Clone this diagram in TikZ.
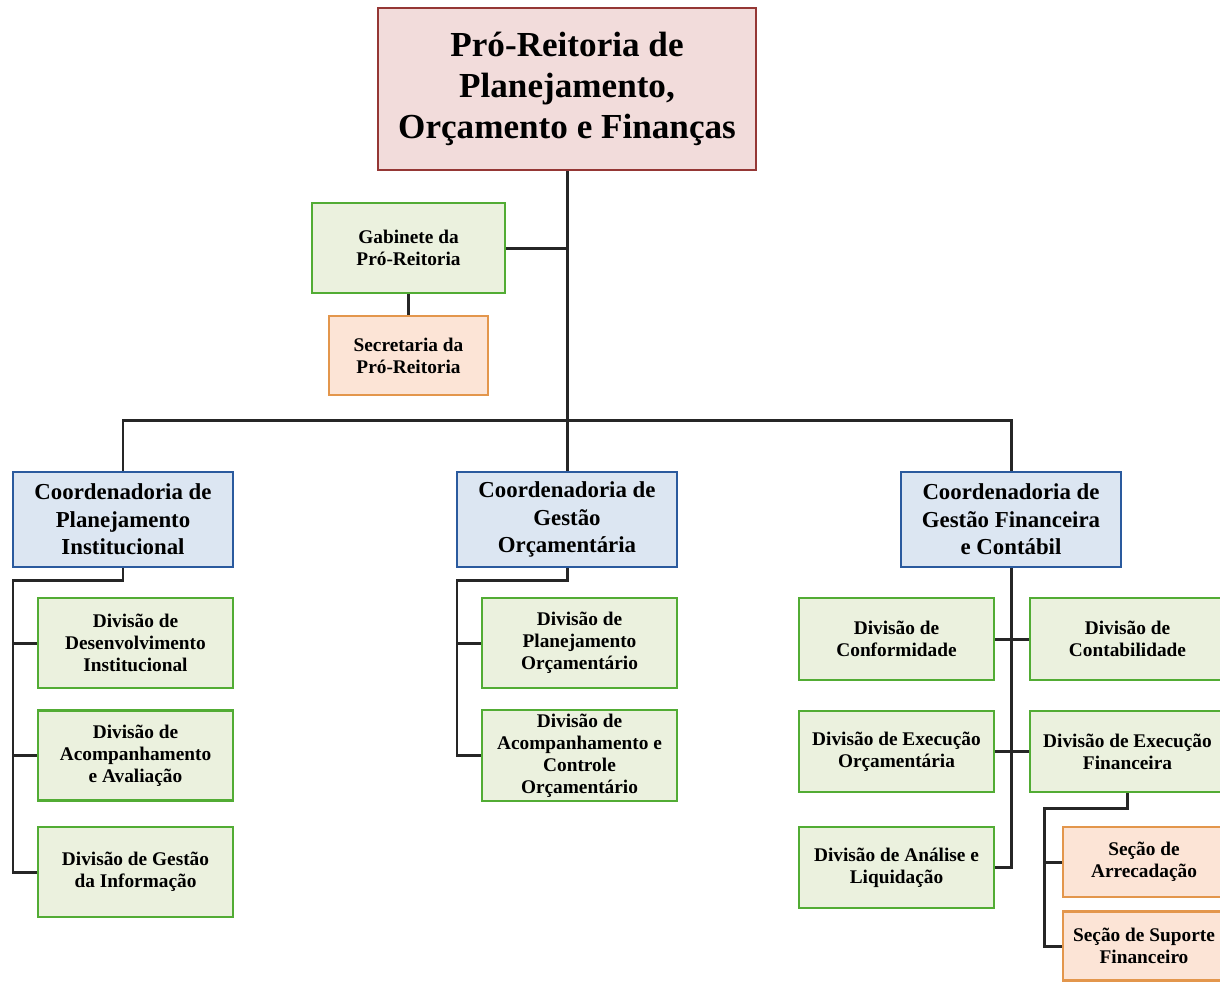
\documentclass[tikz,border=0pt]{standalone}
\usepackage{fontspec}
\setmainfont{Liberation Serif}
\usetikzlibrary{positioning, calc}
\definecolor{cred}{HTML}{953735}
\definecolor{cpink}{HTML}{F2DCDB}
\definecolor{cgreen}{HTML}{52AC34}
\definecolor{cgreenbg}{HTML}{EBF1DE}
\definecolor{corange}{HTML}{E3964C}
\definecolor{corangebg}{HTML}{FCE4D6}
\definecolor{cblue}{HTML}{2A5A9E}
\definecolor{cbluebg}{HTML}{DCE6F2}
\tikzset{
  every picture/.style={line width=1.6pt},
  box/.style={draw=#1, rounded corners=0pt, align=center, inner sep=2pt, text=black, line width=1.6pt},
  link/.style={draw=black!85, line width=1.7pt},
}

\begin{document}
\begin{tikzpicture}[x=0.02cm, y=-0.02cm,
  head/.style={box=cred, fill=cpink, minimum width=7.56cm, minimum height=3.24cm, font=\bfseries\fontsize{20}{23.4}\selectfont},
  coord/.style={box=cblue, fill=cbluebg, minimum width=4.4cm, minimum height=1.9cm, font=\bfseries\fontsize{13}{15.6}\selectfont},
  div/.style={box=cgreen, fill=cgreenbg, minimum width=3.9cm, minimum height=1.8cm, font=\bfseries\fontsize{11}{12.6}\selectfont},
  sec/.style={box=corange, fill=corangebg, font=\bfseries\fontsize{11}{12.6}\selectfont}]
  \useasboundingbox (0,0) rectangle (1220,981);
  % topo
  \node[head] (pro) at (567, 89) {Pró-Reitoria de\\Planejamento,\\Orçamento e Finanças};
  \node[div, minimum width=3.86cm] (gab) at (408.5, 248) {Gabinete da\\Pró-Reitoria};
  \node[sec, minimum width=3.18cm, minimum height=1.58cm] (secr) at (408.5, 355.5) {Secretaria da\\Pró-Reitoria};
  \coordinate (hub) at (567, 420);
  \draw[link] (pro) -- (hub);
  \draw[link] (gab.east) -- (gab.east -| hub);
  \draw[link] (gab) -- (secr);
  % coordenadorias
  \node[coord] (c1) at (123, 519.5) {Coordenadoria de\\Planejamento\\Institucional};
  \node[coord] (c2) at (567, 519.5) {Coordenadoria de\\Gestão\\Orçamentária};
  \node[coord] (c3) at (1011, 519.5) {Coordenadoria de\\Gestão Financeira\\e Contábil};
  \draw[link] (c1.north) |- (hub) -| (c3.north);
  \draw[link] (hub) -- (c2.north);
  % planejamento institucional
  \node[div] (d11) at (135.5, 643) {Divisão de\\Desenvolvimento\\Institucional};
  \node[div] (d12) at (135.5, 755.5) {Divisão de\\Acompanhamento\\e Avaliação};
  \node[div] (d13) at (135.5, 872) {Divisão de Gestão\\da Informação};
  \coordinate (b1) at (13, 580);
  \draw[link] (c1.south) |- (b1) |- (d13.west);
  \foreach \d in {d11, d12} \draw[link] (\d.west) -- (\d.west -| b1);
  % gestao orcamentaria
  \node[div] (d21) at (579.5, 643) {Divisão de\\Planejamento\\Orçamentário};
  \node[div] (d22) at (579.5, 755.5) {Divisão de\\Acompanhamento e\\Controle\\Orçamentário};
  \coordinate (b2) at (457, 580);
  \draw[link] (c2.south) |- (b2) |- (d22.west);
  \draw[link] (d21.west) -- (d21.west -| b2);
  % gestao financeira e contabil
  \node[div, minimum height=1.64cm] (d31) at (896.5, 639) {Divisão de\\Conformidade};
  \node[div, minimum height=1.64cm] (d32) at (1127.5, 639) {Divisão de\\Contabilidade};
  \node[div, minimum height=1.62cm] (d33) at (896.5, 751.5) {Divisão de Execução\\Orçamentária};
  \node[div, minimum height=1.62cm] (d34) at (1127.5, 751.5) {Divisão de Execução\\Financeira};
  \node[div, minimum height=1.62cm] (d35) at (896.5, 867.5) {Divisão de Análise e\\Liquidação};
  \draw[link] (c3.south) |- (d35.east);
  \draw[link] (d31.east) -- (d32.west);
  \draw[link] (d33.east) -- (d34.west);
  % secoes
  \node[sec, minimum width=3.24cm, minimum height=1.4cm] (s1) at (1144, 862) {Seção de\\Arrecadação};
  \node[sec, minimum width=3.24cm, minimum height=1.38cm] (s2) at (1144, 946) {Seção de Suporte\\Financeiro};
  \coordinate (b3) at (1044, 808);
  \draw[link] (d34.south) |- (b3) |- (s2.west);
  \draw[link] (s1.west) -- (s1.west -| b3);
\end{tikzpicture}
\end{document}
